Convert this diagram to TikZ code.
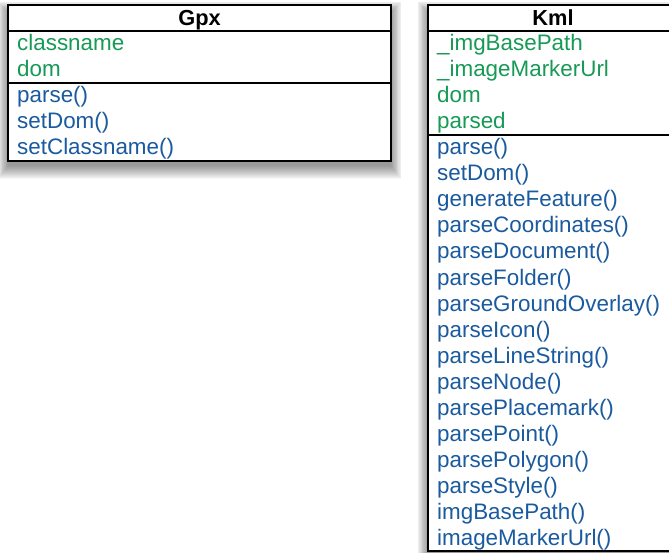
\documentclass[tikz,border=0pt]{standalone}
\usepackage{fontspec}
\setmainfont{Liberation Sans}
\definecolor{umlgreen}{HTML}{169A55}
\definecolor{umlblue}{HTML}{1A5A9E}
\usetikzlibrary{positioning}

\begin{document}
\begin{tikzpicture}[x=1pt, y=1pt,
  every node/.style={font=\fontsize{22.4}{26}\selectfont, inner sep=0pt, anchor=base west},
  attr/.style={text=umlgreen},
  oper/.style={text=umlblue},
  title/.style={font=\fontsize{21.8}{26}\selectfont\bfseries, anchor=base},
  frame/.style={draw=black, line width=2pt, fill=white},
  sep/.style={draw=black, line width=2pt},
]
  \useasboundingbox (0,0) rectangle (669,-553);
  \clip (0,0) rectangle (669,-553);

  % Shadows
  \foreach \r in {0,...,13} {
    \fill[black, opacity=0.035] (8-\r*0.8,-12+\r*0.8) rectangle (391+\r*0.8,-166-\r);
    \fill[black, opacity=0.035] (428-\r*0.8,-12+\r*0.8) rectangle (678+\r*0.8,-556-\r);
  }

  % Gpx class
  \draw[frame] (8,-5) rectangle (391,-161);
  \draw[sep] (8,-31) -- (391,-31);
  \draw[sep] (8,-83) -- (391,-83);
  \node[title] (gpx) at (199.5,-25.5) {Gpx};
  \node[attr] (gpxclassname) at (17,-51) {classname};
  \node[attr] (gpxdom) at (17,-77) {dom};
  \node[oper] (gpxparse) at (17,-103) {parse()};
  \node[oper] (gpxsetdom) at (17,-129) {setDom()};
  \node[oper] (gpxsetclassname) at (17,-155) {setClassname()};

  % Kml class
  \draw[frame] (428,-5) rectangle (678,-551);
  \draw[sep] (428,-31) -- (678,-31);
  \draw[sep] (428,-135) -- (678,-135);
  \node[title] (kml) at (553,-25.5) {Kml};
  \node[attr] (kmlimgbasepath) at (437,-51) {\_imgBasePath};
  \node[attr] (kmlimagemarkerurl) at (437,-77) {\_imageMarkerUrl};
  \node[attr] (kmldom) at (437,-103) {dom};
  \node[attr] (kmlparsed) at (437,-129) {parsed};
  \node[oper] (kmlparse) at (437,-155) {parse()};
  \node[oper] (kmlsetdom) at (437,-181) {setDom()};
  \node[oper] (kmlgeneratefeature) at (437,-207) {generateFeature()};
  \node[oper] (kmlparsecoordinates) at (437,-233) {parseCoordinates()};
  \node[oper] (kmlparsedocument) at (437,-259) {parseDocument()};
  \node[oper] (kmlparsefolder) at (437,-285) {parseFolder()};
  \node[oper] (kmlparsegroundoverlay) at (437,-311) {parseGroundOverlay()};
  \node[oper] (kmlparseicon) at (437,-337) {parseIcon()};
  \node[oper] (kmlparselinestring) at (437,-363) {parseLineString()};
  \node[oper] (kmlparsenode) at (437,-389) {parseNode()};
  \node[oper] (kmlparseplacemark) at (437,-415) {parsePlacemark()};
  \node[oper] (kmlparsepoint) at (437,-441) {parsePoint()};
  \node[oper] (kmlparsepolygon) at (437,-467) {parsePolygon()};
  \node[oper] (kmlparsestyle) at (437,-493) {parseStyle()};
  \node[oper] (kmlimgbasepathm) at (437,-519) {imgBasePath()};
  \node[oper] (kmlimagemarkerurlm) at (437,-545) {imageMarkerUrl()};
\end{tikzpicture}
\end{document}
